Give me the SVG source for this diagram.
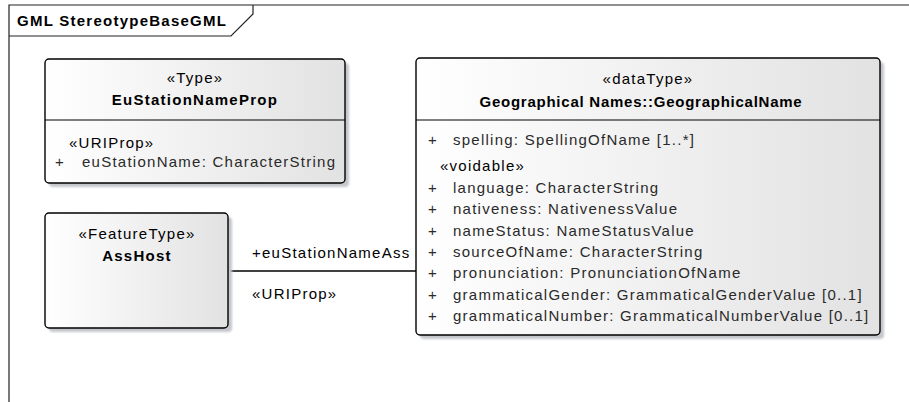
<svg xmlns="http://www.w3.org/2000/svg" width="909" height="402" viewBox="0 0 909 402">
<style>
text{font-family:"Liberation Sans",Arial,sans-serif;font-size:15px;letter-spacing:1.25px;fill:#000}
.b{font-weight:bold}
.c{text-anchor:middle}
.n{letter-spacing:0.75px}
.a{fill:#2a2a2a}
.box{fill:url(#g);stroke:#000;stroke-width:1.4}
.sh{fill:#c4c6cc;filter:url(#blur)}
.div{stroke:#000;stroke-width:1.2}
.frame{fill:none;stroke:#222;stroke-width:1.2}
.conn{stroke:#000;stroke-width:1.3;fill:none}
</style>
<defs>
<linearGradient id="g" x1="0" y1="0" x2="1" y2="0">
<stop offset="0" stop-color="#ffffff"/>
<stop offset="1" stop-color="#e2e2e2"/>
</linearGradient>
<filter id="blur" x="-5%" y="-5%" width="110%" height="110%"><feGaussianBlur stdDeviation="1.2"/></filter>
</defs>
<rect width="909" height="402" fill="#fff"/>
<g id="frame">
<path class="frame" d="M9,402 V5 H909"/>
<path class="frame" d="M9,36 H231 L253,14 V5"/>
<text class="b" x="17" y="26">GML StereotypeBaseGML</text>
</g>
<g id="connectors">
<line class="conn" x1="228" y1="271" x2="416" y2="271"/>
<text x="252" y="258">+euStationNameAss</text>
<text x="252" y="299">«URIProp»</text>
</g>
<g id="EuStationNameProp">
<rect class="sh" x="49" y="63" width="300" height="124" rx="4"/>
<rect class="box" x="45" y="59" width="300" height="124" rx="4"/>
<line class="div" x1="45" y1="120" x2="345" y2="120"/>
<text class="c" x="195" y="83">«Type»</text>
<text class="c b" x="195" y="105">EuStationNameProp</text>
<text x="69" y="148">«URIProp»</text>
<text class="a" x="55" y="167">+</text>
<text class="a" x="82" y="167">euStationName: CharacterString</text>
</g>
<g id="AssHost">
<rect class="sh" x="49" y="217" width="183" height="115" rx="4"/>
<rect class="box" x="45" y="213" width="183" height="115" rx="4"/>
<text class="c" x="137" y="239">«FeatureType»</text>
<text class="c b" x="137" y="261">AssHost</text>
</g>
<g id="GeographicalName">
<rect class="sh" x="420" y="62" width="464" height="277" rx="4"/>
<rect class="box" x="416" y="58" width="464" height="277" rx="4"/>
<line class="div" x1="416" y1="120" x2="880" y2="120"/>
<text class="c" x="648" y="84">«dataType»</text>
<text class="c b n" x="641" y="107">Geographical Names::GeographicalName</text>
<text class="a" x="428" y="145">+</text>
<text class="a" x="453" y="145">spelling: SpellingOfName [1..*]</text>
<text x="440" y="171">«voidable»</text>
<text class="a" x="428" y="193">+</text>
<text class="a" x="453" y="193">language: CharacterString</text>
<text class="a" x="428" y="214">+</text>
<text class="a" x="453" y="214">nativeness: NativenessValue</text>
<text class="a" x="428" y="236">+</text>
<text class="a" x="453" y="236">nameStatus: NameStatusValue</text>
<text class="a" x="428" y="257">+</text>
<text class="a" x="453" y="257">sourceOfName: CharacterString</text>
<text class="a" x="428" y="278">+</text>
<text class="a" x="453" y="278">pronunciation: PronunciationOfName</text>
<text class="a" x="428" y="300">+</text>
<text class="a" x="453" y="300">grammaticalGender: GrammaticalGenderValue [0..1]</text>
<text class="a" x="428" y="321">+</text>
<text class="a" x="453" y="321">grammaticalNumber: GrammaticalNumberValue [0..1]</text>
</g>
</svg>
